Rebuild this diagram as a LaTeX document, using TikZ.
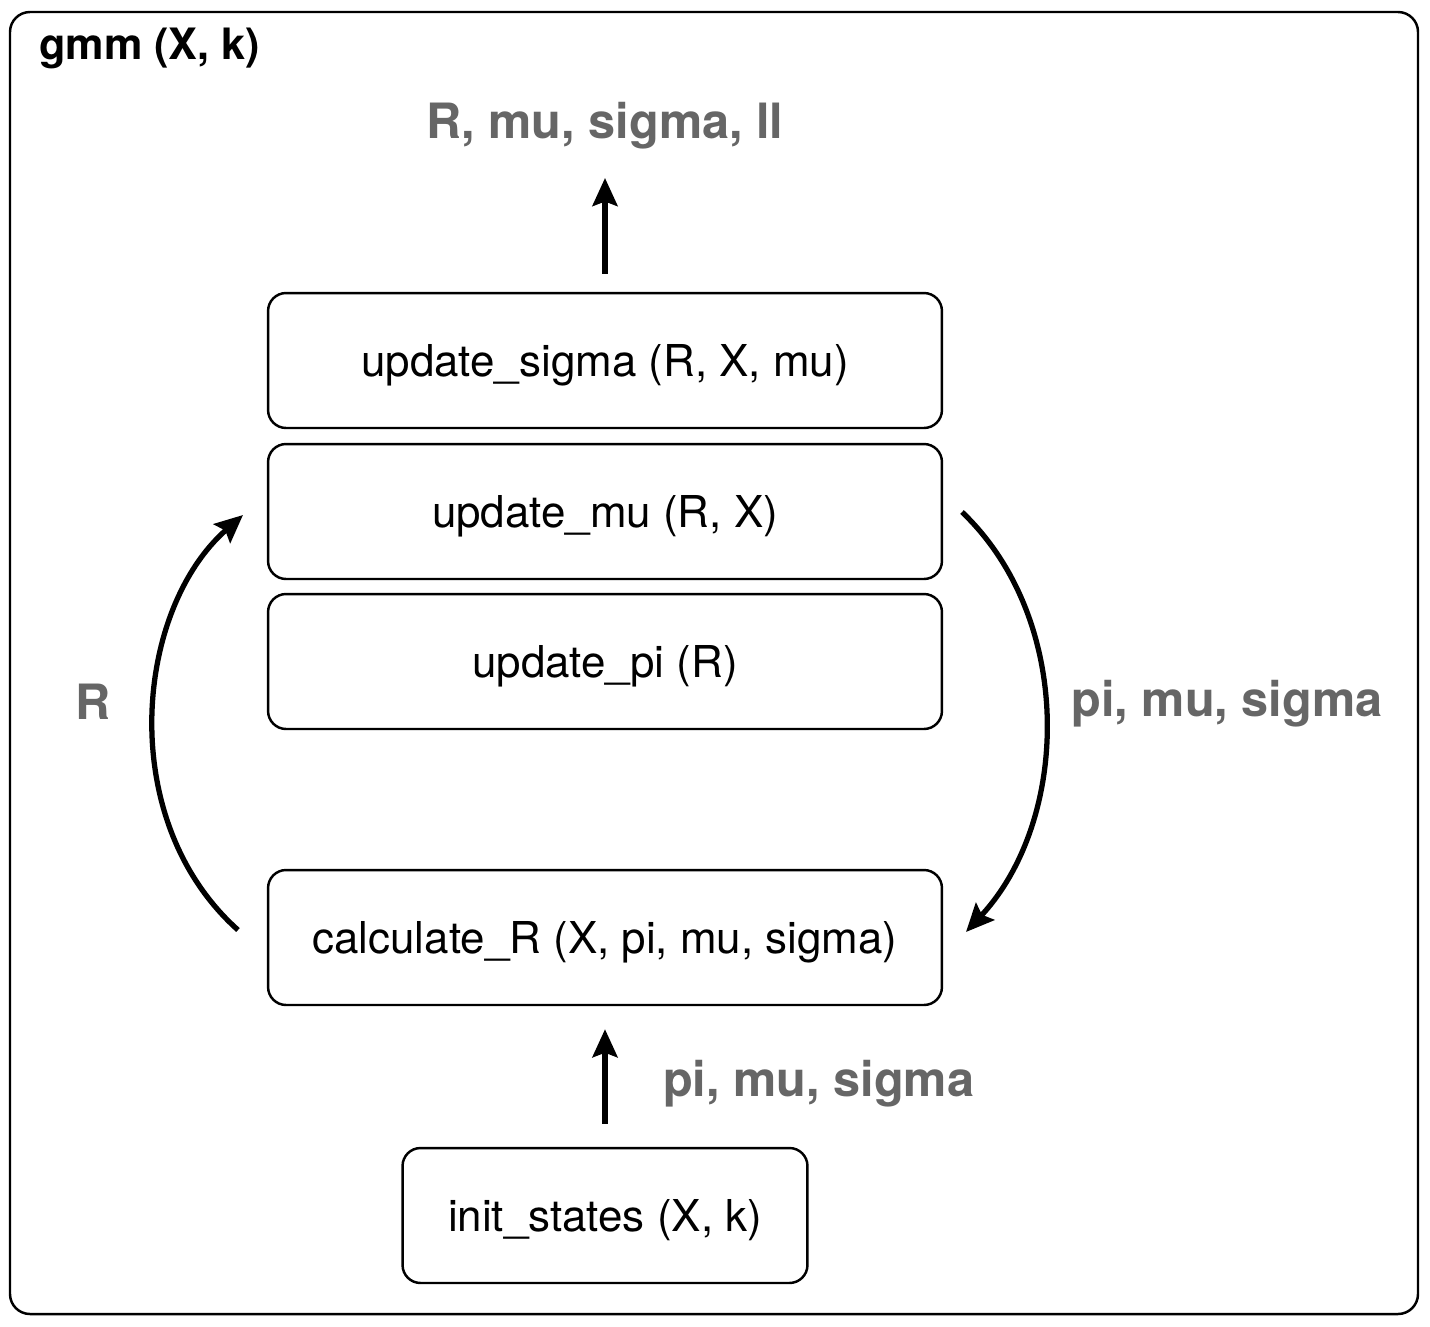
\documentclass[tikz,border=0pt]{standalone}
\usepackage{fontspec}
\setmainfont{TeX Gyre Heros}
\usetikzlibrary{arrows.meta,calc,positioning}
\definecolor{labelgray}{RGB}{102,102,102}
\tikzset{
  func/.style={draw,line width=1.4pt,rounded corners=0.36cm,minimum width=13.48cm,minimum height=2.7cm,text depth=0pt,font=\fontsize{25}{29}\selectfont},
  flow/.style={line width=3pt,-{Stealth[length=0.56cm,width=0.5cm,inset=0.09cm]}},
  varlabel/.style={text=labelgray,font=\fontsize{27.7}{32}\selectfont\bfseries}
}
\begin{document}
\begin{tikzpicture}[x=0.02cm,y=-0.02cm]
  \useasboundingbox (0,0) rectangle (1430,1326);
  % 外枠
  \draw[line width=1.4pt,rounded corners=0.4cm] (10,12) rectangle (1418,1314);
  \node[anchor=west,font=\fontsize{24.6}{28}\selectfont\bfseries] (title) at (33,48) {gmm (X, k)};
  % 関数
  \node[func] (sigma) at (605,360.5) {update\_sigma (R, X, mu)};
  \node[func] (mu) at (605,511.5) {update\_mu (R, X)};
  \node[func] (pi) at (605,661.5) {update\_pi (R)};
  \node[func] (calc) at (605,937.5) {calculate\_R (X, pi, mu, sigma)};
  \node[func,minimum width=8.1cm] (init) at (605,1215.5) {init\_states (X, k)};
  % ラベル
  \node[varlabel] (out) at (605,126) {R, mu, sigma, ll};
  \node[varlabel] (rlab) at (93,702) {R};
  \node[varlabel] (pmslab) at (1227,704) {pi, mu, sigma};
  \node[varlabel,anchor=west] (initlab) at (657,1084) {pi, mu, sigma};
  % 矢印
  \coordinate (outtip) at (605,178);
  \coordinate (lstart) at (238,930);
  \coordinate (lend) at (243,515);
  \coordinate (rstart) at (962,512);
  \coordinate (rend) at (966,932);
  \draw[flow,shorten <=0.36cm] (sigma) -- (outtip);
  \draw[flow,shorten <=0.46cm,shorten >=0.46cm] (init) -- (calc);
  \draw[flow] (lstart) .. controls (115,820) and (135,610) .. (lend);
  \draw[flow] (rstart) .. controls (1075,620) and (1070,820) .. (rend);
\end{tikzpicture}
\end{document}
